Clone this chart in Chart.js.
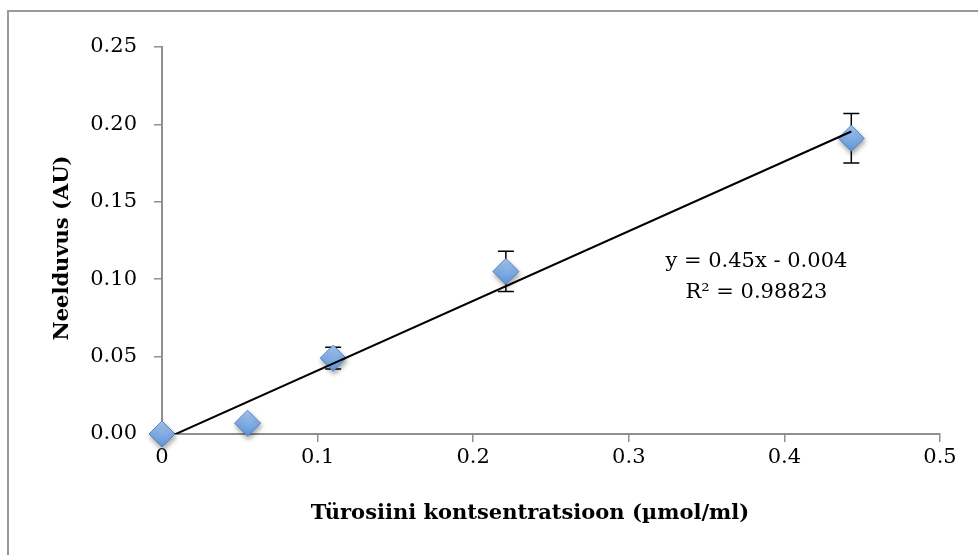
<!DOCTYPE html>
<html>
<head>
<meta charset="utf-8">
<script src="https://cdn.jsdelivr.net/npm/chart.js@4/dist/chart.umd.min.js"></script>
<style>
  html, body { margin: 0; padding: 0; background: #fff; overflow: hidden; }
  #wrap { position: relative; width: 978px; height: 555px; overflow: hidden; }
  #frame { position: absolute; left: 7px; top: 10px; width: 971px; height: 545px; border-left: 2px solid #9a9a9a; border-top: 2px solid #9a9a9a; box-sizing: border-box; }
  canvas { position: absolute; left: 0; top: 0; }
</style>
</head>
<body>
<div id="wrap">
  <div id="frame"></div>
  <canvas id="c" width="978" height="555"></canvas>
</div>
<script>
// ---- data ----
const concentrations = [0, 0.055, 0.11, 0.221, 0.443];       // µmol/ml
const absorbance     = [0, 0.007, 0.049, 0.105, 0.191];      // AU
const errors         = [0, 0, 0.007, 0.013, 0.016];          // ± AU
const trendX         = [0, 0.443];
const trendY         = [-0.004, 0.1954];
const xTicks         = [0, 0.1, 0.2, 0.3, 0.4, 0.5];
const yTicks         = [0, 0.05, 0.10, 0.15, 0.20, 0.25];
const xTitle = 'Türosiini kontsentratsioon (µmol/ml)';
const yTitle = 'Neelduvus (AU)';
const eqLines = ['y = 0.45x - 0.004', 'R\u00B2 = 0.98823'];

const FONT = "'DejaVu Serif', 'Liberation Serif', serif";
const AXIS = '#8f8f8f';

const points = concentrations.map((x, i) => ({ x, y: absorbance[i] }));
const trend = trendX.map((x, i) => ({ x, y: trendY[i] }));

const errorBars = {
  id: 'errorBars',
  beforeDatasetsDraw(chart) {
    const { ctx, scales: { x, y } } = chart;
    ctx.save();
    ctx.strokeStyle = '#000';
    ctx.lineWidth = 1.5;
    concentrations.forEach((cx, i) => {
      const e = errors[i];
      if (!e) return;
      const px = x.getPixelForValue(cx);
      const top = y.getPixelForValue(absorbance[i] + e);
      const bot = y.getPixelForValue(absorbance[i] - e);
      ctx.beginPath();
      ctx.moveTo(px, top); ctx.lineTo(px, bot);
      ctx.moveTo(px - 8, top); ctx.lineTo(px + 8, top);
      ctx.moveTo(px - 8, bot); ctx.lineTo(px + 8, bot);
      ctx.stroke();
    });
    ctx.restore();
  }
};

const shadow = {
  id: 'shadow',
  beforeDatasetDraw(chart, args) {
    if (args.index === 1) {
      const ctx = chart.ctx;
      ctx.save();
      ctx.shadowColor = 'rgba(0,0,0,0.35)';
      ctx.shadowBlur = 5;
      ctx.shadowOffsetX = 1;
      ctx.shadowOffsetY = 3;
    }
  },
  afterDatasetDraw(chart, args) {
    if (args.index === 1) chart.ctx.restore();
  }
};

const labels = {
  id: 'labels',
  afterDraw(chart) {
    const { ctx, scales: { x, y } } = chart;
    ctx.save();
    ctx.fillStyle = '#000';
    ctx.textAlign = 'center';
    ctx.textBaseline = 'middle';
    ctx.font = "21px " + FONT;
    const ex = x.getPixelForValue(0.382);
    ctx.fillText(eqLines[0], ex, y.getPixelForValue(0.1115));
    ctx.fillText(eqLines[1], ex, y.getPixelForValue(0.0915));
    ctx.font = "bold 21px " + FONT;
    ctx.fillText(xTitle, 530, 514);
    ctx.translate(63, 248);
    ctx.rotate(-Math.PI / 2);
    ctx.fillText(yTitle, 0, 0);
    ctx.restore();
  }
};

function markerFill(context) {
  const el = context.element;
  const ctx = context.chart.ctx;
  if (!el || el.y == null || isNaN(el.y)) return '#7fa9df';
  const g = ctx.createLinearGradient(0, el.y - 13, 0, el.y + 13);
  g.addColorStop(0, '#a9c8ef');
  g.addColorStop(0.5, '#82aee5');
  g.addColorStop(1, '#5f95d8');
  return g;
}

new Chart(document.getElementById('c'), {
  type: 'scatter',
  data: {
    datasets: [
      {
        type: 'line',
        data: trend,
        borderColor: '#000',
        borderWidth: 2,
        pointRadius: 0,
        fill: false,
        order: 0,
        clip: 0
      },
      {
        data: points,
        pointStyle: 'rectRot',
        pointRadius: 13,
        pointHoverRadius: 13,
        backgroundColor: markerFill,
        borderColor: '#5584c4',
        borderWidth: 1,
        order: 1,
        clip: false
      }
    ]
  },
  options: {
    responsive: false,
    animation: false,
    events: [],
    layout: { padding: { left: 0, right: 38, top: 47, bottom: 0 } },
    plugins: { legend: { display: false }, tooltip: { enabled: false } },
    scales: {
      x: {
        type: 'linear',
        min: 0, max: 0.5,
        afterBuildTicks(s) { s.ticks = xTicks.map(v => ({ value: v })); },
        afterFit(s) { s.height = 121; },
        grid: { drawOnChartArea: false, drawTicks: true, tickLength: 8, color: AXIS, lineWidth: 1.5 },
        border: { color: AXIS, width: 2 },
        ticks: {
          padding: 3,
          color: '#000',
          font: { family: FONT, size: 21 },
          callback: v => String(v)
        }
      },
      y: {
        type: 'linear',
        min: 0, max: 0.25,
        afterBuildTicks(s) { s.ticks = yTicks.map(v => ({ value: v })); },
        afterFit(s) { s.width = 162; },
        grid: { drawOnChartArea: false, drawTicks: true, tickLength: 8, color: AXIS, lineWidth: 1.5 },
        border: { color: AXIS, width: 2 },
        ticks: {
          padding: 17,
          color: '#000',
          font: { family: FONT, size: 21 },
          callback: v => v.toFixed(2)
        }
      }
    }
  },
  plugins: [errorBars, shadow, labels]
});
</script>
</body>
</html>
